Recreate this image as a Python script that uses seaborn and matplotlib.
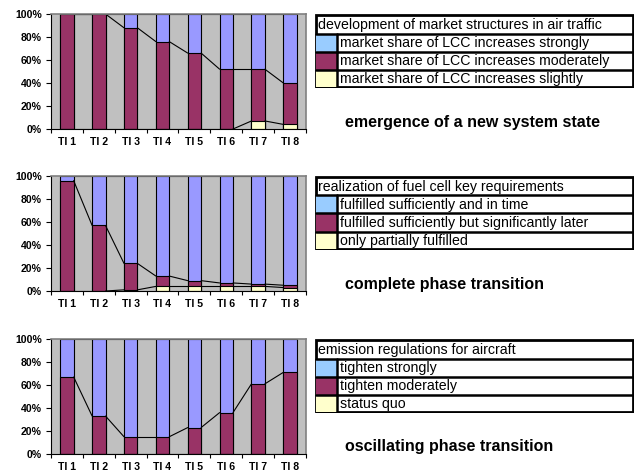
import numpy as np
import matplotlib
matplotlib.use("Agg")
import matplotlib.pyplot as plt
from matplotlib.patches import Rectangle
import seaborn as sns

sns.set_style("ticks")
plt.rcParams["font.family"] = ["Liberation Sans", "DejaVu Sans"]
plt.rcParams["text.color"] = "black"
plt.rcParams["xtick.color"] = "black"
plt.rcParams["ytick.color"] = "black"

# %%
# data (percent of scenarios per time interval)
categories = ["TI 1", "TI 2", "TI 3", "TI 4", "TI 5", "TI 6", "TI 7", "TI 8"]

strong1 = [0, 0, 12, 24, 34, 48, 48, 60]
moderate1 = [100, 100, 88, 76, 66, 52, 45, 36]
slight1 = [0, 0, 0, 0, 0, 0, 7, 4]

strong2 = [4, 43, 76, 87, 91, 93, 94, 95]
moderate2 = [96, 57, 23, 9, 5, 3, 2, 2]
slight2 = [0, 0, 1, 4, 4, 4, 4, 3]

strong3 = [33, 67, 85, 85, 77, 64, 39, 29]
moderate3 = [67, 33, 15, 15, 23, 36, 61, 71]
slight3 = [0, 0, 0, 0, 0, 0, 0, 0]

titles = [
    "development of market structures in air traffic",
    "realization of fuel cell key requirements",
    "emission regulations for aircraft",
]
labels = [
    [
        "market share of LCC increases strongly",
        "market share of LCC increases moderately",
        "market share of LCC increases slightly",
    ],
    [
        "fulfilled sufficiently and in time",
        "fulfilled sufficiently but significantly later",
        "only partially fulfilled",
    ],
    ["tighten strongly", "tighten moderately", "status quo"],
]
captions = [
    "emergence of a new system state",
    "complete phase transition",
    "oscillating phase transition",
]

panels = [
    (strong1, moderate1, slight1),
    (strong2, moderate2, slight2),
    (strong3, moderate3, slight3),
]

# %%
c_strong = "#9999FF"
c_strong_leg = "#99CCFF"
c_moderate = "#993366"
c_slight = "#FFFFCC"
bg = "#C0C0C0"
bar_w = 0.42

W, H = 638, 475
fig = plt.figure(figsize=(W / 100, H / 100), dpi=100)

ax_tops = [14, 176, 339]
for k, (strong, moderate, slight) in enumerate(panels):
    top = ax_tops[k]
    ax = fig.add_axes([51 / W, 1 - (top + 115) / H, 255 / W, 115 / H])
    ax.set_facecolor(bg)

    strong = np.array(strong, dtype=float)
    moderate = np.array(moderate, dtype=float)
    slight = np.array(slight, dtype=float)
    cum_mod = moderate + slight
    cum_all = strong + cum_mod

    # stacked bars via overlaid cumulative totals
    for vals, col in [(cum_all, c_strong), (cum_mod, c_moderate), (slight, c_slight)]:
        sns.barplot(
            x=categories,
            y=vals,
            color=col,
            saturation=1,
            width=bar_w,
            edgecolor="black",
            linewidth=0.8,
            ax=ax,
        )

    # series lines between neighbouring bars
    for cum in [cum_all, cum_mod, slight]:
        for i in range(len(categories) - 1):
            ax.plot(
                [i + bar_w / 2, i + 1 - bar_w / 2],
                [cum[i], cum[i + 1]],
                color="black",
                lw=0.8,
            )

    ax.set_xlim(-0.5, len(categories) - 0.5)
    ax.set_ylim(0, 100)
    ax.set_yticks(np.arange(0, 101, 20))
    ax.set_yticklabels([f"{v}%" for v in range(0, 101, 20)])
    ax.set_xticks(np.arange(len(categories)))
    ax.set_xticklabels(categories)
    ax.set_xticks(np.arange(len(categories) + 1) - 0.5, minor=True)
    ax.tick_params(axis="x", which="major", length=0, pad=6)
    ax.tick_params(axis="x", which="minor", length=3, width=0.8, direction="out")
    ax.tick_params(axis="y", length=3.5, width=0.8, direction="out", pad=3)
    for t in ax.get_xticklabels() + ax.get_yticklabels():
        t.set_fontsize(7.6)
        t.set_fontweight("bold")
    ax.set_xlabel("")
    ax.set_ylabel("")
    for s in ["top", "right"]:
        ax.spines[s].set_color("#808080")
        ax.spines[s].set_linewidth(1.2)
    for s in ["left", "bottom"]:
        ax.spines[s].set_color("black")
        ax.spines[s].set_linewidth(0.8)

    # legend drawn as a boxed table
    lax = fig.add_axes([315 / W, 1 - (top + 74) / H, 319 / W, 74 / H])
    lax.set_xlim(0, 319)
    lax.set_ylim(74, 0)
    lax.axis("off")
    rows = [(1, 19.5), (19.5, 37.5), (37.5, 55.5), (55.5, 73)]
    lax.add_patch(Rectangle((1, 1), 317, 72, fill=False, ec="black", lw=2))
    lax.text(2.5, (rows[0][0] + rows[0][1]) / 2 + 0.5, titles[k],
             fontsize=10.2, va="center", ha="left")
    swatches = [c_strong_leg, c_moderate, c_slight]
    for j, (y0, y1) in enumerate(rows[1:]):
        lax.add_patch(Rectangle((1, y0), 21, y1 - y0, fc=swatches[j], ec="none"))
        lax.plot([1, 318], [y0, y0], color="black", lw=1.8)
        lax.plot([22, 22], [y0, y1], color="black", lw=1.8)
        lax.text(25, (y0 + y1) / 2 + 0.5, labels[k][j],
                 fontsize=10.2, va="center", ha="left")

    fig.text(345 / W, 1 - (top + 108) / H, captions[k],
             fontsize=11.5, fontweight="bold", va="center", ha="left")

fig.savefig("out.png", dpi=100)
